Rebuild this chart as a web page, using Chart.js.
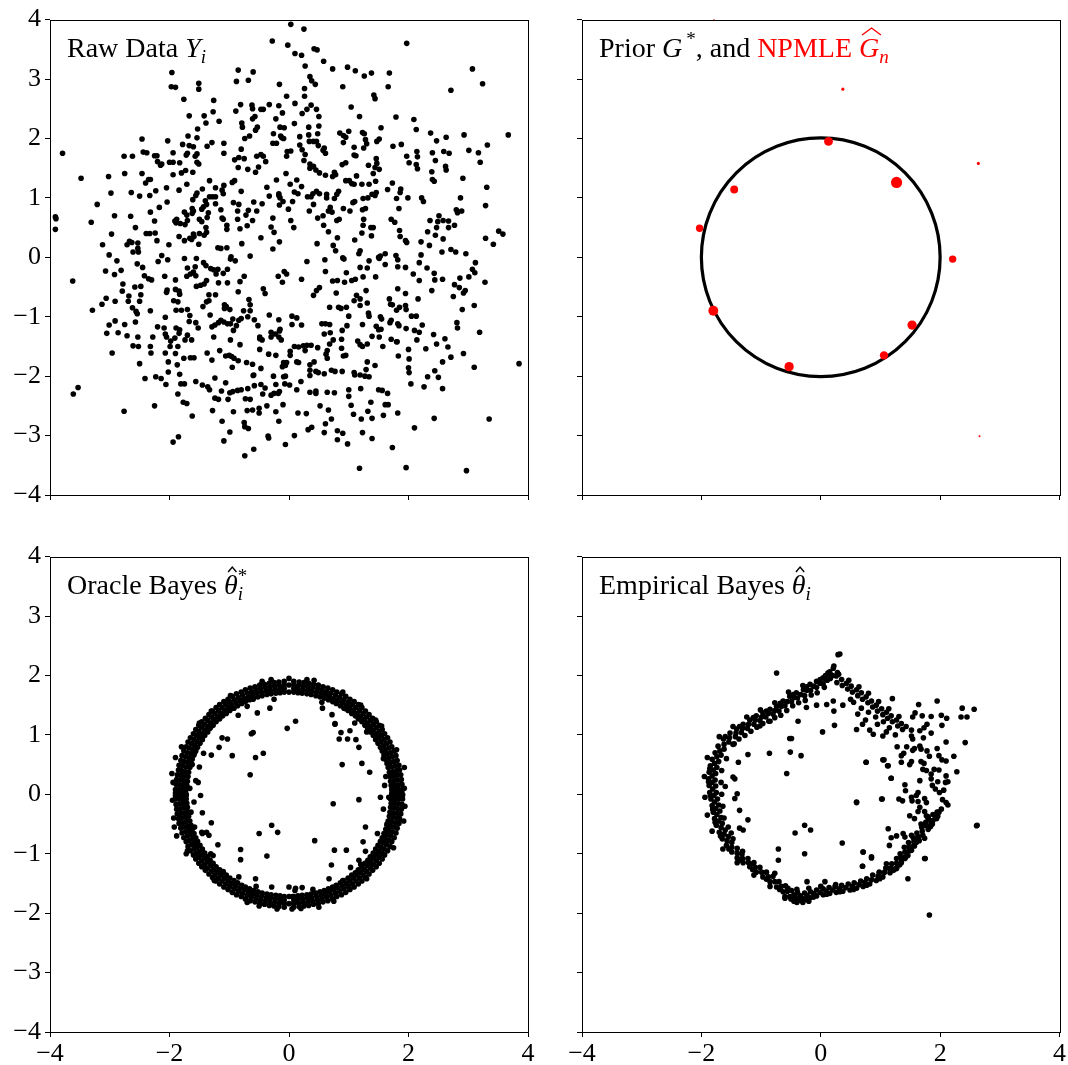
<!DOCTYPE html>
<html>
<head>
<meta charset="utf-8">
<script src="https://cdn.jsdelivr.net/npm/chart.js@4.4.1/dist/chart.umd.min.js"></script>
<style>
html, body { margin: 0; padding: 0; background: #fff; overflow: hidden; }
canvas { position: absolute; }
</style>
</head>
<body>
<canvas id="rawChart" width="540" height="528" style="left:0;top:0"></canvas>
<canvas id="priorChart" width="536" height="528" style="left:532px;top:0"></canvas>
<canvas id="oracleChart" width="540" height="528" style="left:0;top:537px"></canvas>
<canvas id="ebChart" width="536" height="528" style="left:532px;top:537px"></canvas>
<script>
// tick labels
const xTicks = [-4, -2, 0, 2, 4]
const yTicks = [-4, -3, -2, -1, 0, 1, 2, 3, 4]

const rawY = [
  [0.03,3.92],[0.25,3.84],[-0.28,3.64],[-0.02,3.57],[1.97,3.60],[0.10,3.43],[0.21,3.40],[0.42,3.51],[0.47,3.49],[0.58,3.30],[0.27,3.22],[0.73,3.17],[0.98,3.20],[1.11,3.14],[1.26,3.05],[1.38,3.10],[1.68,3.10],[1.66,2.87],[3.07,3.17],[3.24,2.92],[2.71,2.81],[-1.96,3.11],[-1.97,2.87],[-1.90,2.86],[-1.51,2.93],[-1.51,2.83],[-0.85,3.15],[-0.60,3.12],[-0.88,2.96],[-0.68,2.98],[-0.16,2.91],[0.35,3.04],[0.38,2.97],[0.44,2.91],[0.26,2.84],[0.90,2.87],[1.42,2.73],[1.44,2.67],[-1.76,2.66],[-1.26,2.64],[-1.67,2.38],[-1.42,2.38],[-1.27,2.45],[-1.39,2.26],[-1.17,2.29],[-1.53,2.16],[-0.89,2.46],[-0.81,2.57],[-0.62,2.56],[-0.61,2.50],[-0.47,2.49],[-0.43,2.49],[-0.33,2.57],[-0.17,2.55],[-0.11,2.43],[-0.04,2.71],[0.10,2.59],[0.26,2.71],[0.22,2.42],[0.30,2.49],[0.37,2.56],[0.46,2.49],[0.50,2.37],[0.50,2.21],[-0.57,2.37],[-0.61,2.33],[-0.79,2.26],[-0.78,2.19],[-0.53,2.19],[-0.56,2.14],[-0.66,2.04],[-0.74,2.00],[-0.22,2.33],[-0.15,2.19],[-0.08,2.18],[-0.26,2.08],[-0.14,2.04],[-0.09,2.00],[0.09,2.25],[0.33,2.19],[0.33,2.06],[0.48,2.08],[0.46,1.95],[0.18,2.03],[1.04,2.53],[1.18,2.37],[1.79,2.36],[2.09,2.32],[2.13,2.15],[2.37,2.09],[2.47,1.96],[2.63,2.02],[2.93,2.06],[3.67,2.06],[3.32,1.89],[3.01,1.80],[3.17,1.76],[3.20,1.60],[2.59,1.78],[2.68,1.75],[2.40,1.76],[2.45,1.63],[2.62,1.53],[2.63,1.47],[2.39,1.44],[2.40,1.31],[2.43,1.28],[2.91,1.33],[3.31,1.18],[3.29,0.87],[2.87,1.00],[1.97,1.70],[2.14,1.78],[2.15,1.69],[2.01,1.59],[2.13,1.56],[2.15,1.49],[1.74,1.87],[1.88,1.90],[1.54,2.18],[1.51,1.99],[1.47,1.95],[1.23,2.10],[1.26,2.08],[0.85,2.09],[0.91,2.05],[0.95,2.02],[1.00,2.12],[0.91,1.93],[1.09,1.85],[1.09,1.72],[1.12,1.71],[1.28,1.98],[1.30,1.91],[1.25,1.84],[1.46,1.66],[1.47,1.58],[1.44,1.51],[1.51,1.48],[1.41,1.41],[1.33,1.55],[1.13,1.37],[0.95,1.59],[0.89,1.56],[0.76,1.43],[0.78,1.39],[0.73,1.36],[0.95,1.29],[1.01,1.29],[1.05,1.24],[1.09,1.23],[1.22,1.23],[1.34,1.23],[1.45,1.28],[1.73,1.25],[1.87,1.15],[1.86,1.09],[1.99,1.00],[1.39,1.06],[1.44,1.04],[1.46,1.09],[1.24,0.99],[1.32,1.00],[1.65,1.14],[1.80,0.99],[2.22,1.00],[2.25,0.94],[2.80,0.80],[2.89,0.78],[2.82,0.75],[2.51,0.70],[2.58,0.62],[2.67,0.61],[2.49,0.60],[2.36,0.62],[2.77,0.54],[2.67,0.50],[2.47,0.50],[2.32,0.43],[2.45,0.37],[2.58,0.31],[2.35,0.20],[3.29,0.32],[3.51,0.44],[3.58,0.39],[3.42,0.22],[2.56,0.09],[2.71,0.13],[2.79,0.09],[2.96,0.06],[2.21,0.26],[2.21,0.04],[1.71,0.64],[1.77,0.59],[1.84,0.82],[1.85,0.45],[1.86,0.35],[1.95,0.28],[1.97,0.25],[1.79,0.03],[1.61,0.06],[1.53,0.02],[1.50,0.00],[1.24,0.54],[1.37,0.50],[1.41,0.50],[1.22,0.41],[1.38,0.36],[1.25,0.64],[1.23,0.80],[1.28,0.82],[1.10,0.29],[1.19,0.11],[1.17,0.06],[0.80,0.62],[0.84,0.64],[1.02,0.78],[1.07,0.92],[1.10,0.94],[0.91,0.82],[0.72,0.76],[0.69,0.84],[0.66,0.78],[0.57,0.70],[0.48,0.66],[0.58,0.54],[0.66,0.43],[0.81,0.33],[0.74,0.20],[0.78,0.11],[0.47,0.23],[0.90,-0.01],[0.83,1.11],[0.80,1.06],[0.76,0.99],[0.63,1.06],[0.63,1.00],[0.46,1.11],[0.51,1.07],[0.61,1.38],[0.31,1.02],[0.37,1.02],[0.40,1.07],[0.34,0.78],[0.41,0.89],[0.21,1.19],[0.13,1.30],[0.02,1.23],[0.09,1.10],[0.15,1.07],[0.06,0.94],[-0.05,1.41],[-0.21,1.30],[-0.17,1.07],[-0.17,1.04],[-0.15,1.00],[-0.33,1.03],[-0.37,1.18],[-0.16,0.88],[-0.10,0.94],[-0.01,0.81],[0.03,0.62],[0.08,0.50],[-0.27,0.66],[-0.30,0.51],[-0.25,0.42],[-0.16,0.26],[-0.27,0.14],[-0.47,0.33],[-0.45,0.90],[-0.59,0.93],[-0.68,0.79],[-0.54,0.78],[-0.72,0.71],[-0.61,0.62],[-0.70,0.53],[-0.86,0.78],[-0.86,0.64],[-0.82,0.48],[-0.93,0.92],[-0.84,0.89],[-0.80,1.11],[-0.95,1.26],[-0.91,1.29],[-1.09,1.21],[-1.12,1.13],[-1.10,1.07],[-1.23,1.02],[-1.33,1.02],[-1.28,1.02],[-1.40,0.95],[-1.38,0.89],[-1.43,0.85],[-1.46,0.81],[-1.14,0.80],[-1.12,0.66],[-1.10,0.64],[-1.04,0.54],[-1.04,0.47],[-1.23,0.90],[-1.35,0.75],[-1.37,0.67],[-1.50,0.64],[-1.46,0.60],[-1.39,0.50],[-1.62,0.82],[-1.62,0.74],[-1.60,0.78],[-1.75,0.76],[-1.71,0.71],[-1.70,0.62],[-1.74,0.55],[-1.82,0.57],[-1.88,0.64],[-1.91,0.61],[-1.89,0.58],[-1.84,0.35],[-1.75,0.28],[-1.66,0.32],[-1.60,0.39],[-1.59,0.35],[-1.63,0.30],[-1.50,0.40],[-1.42,0.37],[-1.38,0.42],[-1.51,0.22],[-1.56,1.04],[-1.61,0.97],[-1.54,1.08],[-1.45,1.15],[-1.33,1.29],[-1.23,1.17],[-1.19,0.16],[-1.14,0.15],[-1.04,0.16],[-0.97,0.01],[-0.79,0.23],[-0.65,0.02],[-2.03,1.96],[-1.94,1.76],[-1.94,1.60],[-2.00,1.60],[-1.83,1.59],[-1.78,1.90],[-1.69,2.04],[-1.67,1.88],[-1.54,2.01],[-1.60,1.86],[-1.54,1.74],[-1.57,1.70],[-1.51,1.57],[-1.54,1.60],[-1.72,1.72],[-1.70,1.75],[-1.29,1.93],[-1.37,1.87],[-1.09,1.92],[-1.09,1.75],[-1.94,1.39],[-1.80,1.42],[-1.73,1.46],[-1.61,1.43],[-1.71,1.23],[-1.84,1.13],[-2.05,1.17],[-2.04,0.93],[-2.17,0.84],[-2.32,0.76],[-2.25,0.61],[-2.23,1.12],[-2.33,1.04],[-2.50,1.03],[-2.64,1.09],[-2.46,1.41],[-2.35,1.31],[-2.32,1.31],[-2.40,1.25],[-2.46,1.99],[-2.44,1.77],[-2.38,1.76],[-2.25,1.71],[-2.21,1.71],[-2.20,1.61],[-2.15,1.55],[-2.13,1.57],[-2.76,1.70],[-2.62,1.70],[-2.75,1.41],[-3.02,1.36],[-2.98,1.08],[-3.48,1.33],[-3.79,1.75],[-3.21,0.89],[-3.31,0.59],[-2.92,0.70],[-2.97,0.39],[-3.12,0.21],[-3.01,0.04],[-2.65,0.69],[-2.57,0.50],[-2.67,0.27],[-2.63,0.25],[-2.53,0.24],[-2.53,0.15],[-2.71,0.21],[-2.61,0.09],[-2.52,0.09],[-2.39,0.40],[-2.33,0.40],[-2.24,0.41],[-2.21,0.28],[-2.01,0.21],[-2.13,0.03],[-3.91,0.68],[-3.90,0.65],[-3.91,0.47],[-0.80,1.82],[-0.84,1.68],[-0.75,1.66],[-0.91,1.64],[-0.85,1.51],[-0.69,1.48],[-0.56,1.43],[-0.51,1.52],[-0.54,1.70],[-0.47,1.73],[-0.43,1.70],[-0.39,1.61],[-0.27,1.92],[-0.21,1.92],[-0.12,2.01],[-0.03,1.78],[0.03,1.79],[-0.04,1.70],[0.18,1.89],[0.22,1.81],[0.27,1.73],[0.34,1.95],[0.41,1.95],[0.49,1.88],[0.57,1.80],[0.61,1.75],[0.59,1.84],[0.25,1.63],[0.35,1.57],[0.41,1.53],[0.45,1.47],[0.51,1.42],[0.35,1.50],
  [-3.62,-0.40],[-3.61,-2.30],[-3.53,-2.19],[-3.29,-0.89],[-3.13,-0.79],[-3.06,-0.69],[-2.91,-0.74],[-3.07,-0.23],[-2.92,-0.29],[-2.81,-0.22],[-2.88,-0.06],[-2.78,-0.45],[-2.79,-0.57],[-2.68,-0.65],[-2.69,-0.74],[-2.58,-0.50],[-2.48,-0.49],[-2.48,-0.63],[-2.50,-0.74],[-2.62,-0.85],[-2.56,-0.91],[-2.54,-0.95],[-3.01,-1.14],[-3.05,-1.28],[-2.91,-1.07],[-2.86,-1.27],[-2.75,-1.13],[-2.71,-1.32],[-2.57,-1.09],[-2.53,-1.34],[-2.61,-1.49],[-2.52,-1.50],[-2.96,-1.61],[-2.50,-1.79],[-2.76,-2.59],[-2.54,-0.11],[-2.45,-0.17],[-2.42,-0.31],[-2.35,-0.36],[-2.30,-0.38],[-2.19,-0.07],[-2.03,-0.04],[-2.08,-0.32],[-1.90,-0.38],[-2.04,-0.55],[-2.05,-0.59],[-1.90,-0.54],[-1.84,-0.57],[-1.83,-0.62],[-2.32,-0.90],[-2.07,-1.01],[-2.20,-1.17],[-2.28,-1.34],[-2.32,-1.50],[-2.31,-1.61],[-2.09,-1.19],[-2.07,-1.29],[-2.05,-1.34],[-1.98,-1.41],[-1.99,-1.50],[-1.91,-1.36],[-1.86,-1.50],[-1.90,-1.62],[-2.07,-1.61],[-2.02,-1.76],[-1.87,-1.81],[-1.83,-1.97],[-2.02,-1.93],[-1.93,-0.73],[-1.86,-0.75],[-1.89,-0.89],[-1.80,-0.89],[-1.70,-0.88],[-1.66,-0.98],[-1.89,-1.19],[-1.83,-1.22],[-1.70,-1.31],[-1.84,-1.28],[-1.74,-1.39],[-1.63,-1.39],[-1.59,-1.69],[-1.76,-1.70],[-1.65,-1.69],[-2.41,-2.04],[-2.23,-2.01],[-2.14,-2.04],[-2.06,-2.14],[-2.25,-2.50],[-1.86,-2.30],[-1.77,-2.44],[-1.71,-2.46],[-1.81,-2.13],[-1.75,-2.13],[-1.62,-2.67],[-1.94,-3.11],[-1.85,-3.02],[-1.56,-2.09],[-1.45,-2.15],[-1.36,-2.18],[-1.33,-2.23],[-1.24,-2.37],[-1.18,-2.39],[-1.28,-2.58],[-1.12,-2.76],[-1.13,-2.25],[-1.06,-2.11],[-1.24,-2.03],[-1.09,-3.09],[-0.99,-2.94],[-1.02,-2.39],[-0.99,-2.28],[-0.94,-2.26],[-0.86,-2.24],[-0.80,-2.23],[-0.93,-2.60],[-0.74,-2.85],[-0.75,-2.78],[-0.68,-2.88],[-0.73,-2.38],[-0.65,-2.39],[-0.69,-2.21],[-0.58,-2.16],[-0.47,-2.14],[-0.40,-2.20],[-0.44,-2.30],[-0.60,-1.99],[-0.70,-2.58],[-0.61,-2.57],[-0.50,-2.54],[-0.50,-2.62],[-0.74,-3.34],[-0.59,-3.23],[-0.37,-2.50],[-0.35,-3.01],[-0.34,-3.04],[-0.30,-2.32],[-0.25,-2.29],[-0.18,-2.29],[-0.16,-2.26],[-0.22,-2.14],[-0.26,-2.00],[-0.09,-2.01],[-0.06,-2.00],[-0.07,-2.13],[0.01,-2.15],[-0.22,-2.60],[-0.17,-2.76],[-0.10,-2.48],[-0.06,-3.15],[0.09,-3.00],[0.20,-2.09],[0.13,-2.23],[0.15,-2.62],[0.29,-2.63],[0.35,-2.27],[0.45,-2.29],[0.45,-2.25],[0.52,-2.50],[0.64,-2.27],[0.66,-2.57],[0.76,-2.28],[0.32,-2.90],[0.38,-2.86],[0.61,-2.80],[0.59,-2.95],[0.71,-2.72],[0.81,-2.92],[0.90,-2.96],[0.81,-3.07],[0.98,-3.14],[1.18,-3.55],[1.96,-3.54],[2.97,-3.59],[1.00,-2.23],[1.00,-2.34],[1.04,-2.49],[1.08,-2.64],[1.20,-2.21],[1.21,-2.72],[1.32,-2.59],[1.37,-2.44],[1.39,-2.71],[1.23,-2.95],[1.39,-3.05],[1.50,-2.23],[1.56,-2.24],[1.65,-2.29],[1.61,-2.48],[1.66,-2.48],[1.58,-2.66],[1.82,-2.62],[1.73,-3.20],[2.10,-2.87],[2.04,-2.13],[2.26,-2.18],[2.32,-2.01],[2.43,-2.71],[2.50,-2.02],[2.57,-2.21],[2.44,-1.91],[2.57,-1.76],[2.71,-1.68],[2.92,-1.62],[3.10,-1.85],[3.35,-2.72],[3.85,-1.79],[3.19,-1.26],[2.82,-1.19],[2.81,-1.10],[2.90,-0.88],[3.10,-0.81],[2.75,-0.66],[2.85,-0.51],[2.95,-0.56],[2.92,-0.60],[2.77,-0.46],[2.86,-0.35],[3.01,-0.33],[3.07,-0.20],[3.11,-0.26],[3.12,-0.09],[3.28,-0.42],[2.43,-0.27],[2.44,-0.38],[2.57,-0.37],[2.31,-0.18],[2.18,-0.09],[2.08,-0.28],[2.18,-0.39],[2.39,-0.56],[2.16,-0.70],[1.95,-0.81],[1.96,-0.88],[1.85,-0.84],[1.80,-0.89],[2.05,-0.99],[2.13,-0.99],[2.23,-1.14],[2.18,-1.26],[2.10,-1.23],[1.96,-1.20],[2.42,-1.30],[2.47,-1.46],[2.66,-1.51],[2.61,-1.37],[2.29,-1.54],[2.00,-1.55],[2.01,-1.71],[2.00,-1.86],[2.01,-1.94],[2.14,-1.39],[1.83,-1.66],[1.81,-1.42],[1.82,-0.16],[1.82,-0.04],[1.95,-0.17],[1.45,-0.33],[1.61,-0.12],[1.51,-0.02],[1.82,-0.53],[1.95,-0.61],[1.68,-0.70],[1.70,-0.79],[1.73,-0.80],[1.71,-1.06],[1.69,-1.10],[1.82,-1.12],[1.84,-1.15],[1.53,-1.00],[1.55,-1.04],[1.46,-1.16],[1.50,-1.22],[1.54,-1.21],[1.51,-1.34],[1.57,-1.50],[1.71,-1.38],[1.80,-1.42],[1.29,-0.56],[1.31,-0.77],[1.33,-0.94],[1.34,-0.99],[1.39,-1.33],[1.13,-0.64],[1.19,-0.70],[1.19,-0.81],[1.23,-1.13],[1.11,-0.37],[1.05,-0.39],[0.93,-0.42],[0.81,-0.39],[0.73,-0.40],[0.96,-0.26],[1.24,-0.33],[1.31,-0.18],[1.34,-0.06],[1.19,-0.17],[0.79,-0.60],[1.09,-0.73],[1.00,-0.99],[0.97,-1.15],[0.89,-1.23],[0.88,-1.38],[0.88,-1.53],[0.91,-1.66],[0.61,-0.24],[0.60,-0.04],[0.92,-0.03],[0.68,-0.84],[0.83,-0.84],[0.87,-0.86],[0.96,-0.84],[0.55,-1.12],[0.61,-1.12],[0.68,-1.13],[0.59,-1.29],[0.69,-1.27],[0.74,-1.39],[0.68,-1.46],[0.64,-1.57],[0.62,-1.63],[0.64,-1.70],[0.95,-1.65],[0.71,-1.90],[0.77,-1.92],[0.89,-1.92],[1.09,-1.94],[1.10,-1.98],[1.19,-1.98],[1.27,-2.00],[1.34,-2.01],[1.29,-1.89],[1.31,-1.76],[1.44,-1.82],[1.15,-1.41],[1.19,-1.47],[1.31,-1.46],[1.23,-1.50],[0.41,-0.64],[0.46,-0.56],[0.51,-0.51],[0.21,-0.37],[-0.18,-0.32],[-0.11,-0.42],[-0.08,-0.24],[-0.04,-0.28],[0.30,-0.07],[-0.43,-0.53],[-0.40,-0.61],[0.09,-1.50],[0.16,-1.51],[0.24,-1.49],[0.30,-1.48],[0.37,-1.48],[0.48,-1.52],[0.27,-1.57],[0.02,-1.58],[0.02,-1.65],[0.13,-1.76],[0.16,-1.77],[0.35,-1.81],[0.42,-1.76],[0.35,-1.90],[0.45,-1.92],[0.49,-1.94],[0.59,-1.96],[0.35,-1.99],[0.05,-0.99],[0.13,-1.02],[0.05,-1.13],[0.21,-1.14],[-0.17,-1.05],[-0.15,-1.21],[-0.30,-1.26],[-0.30,-1.34],[-0.23,-1.29],[-0.17,-1.34],[-0.13,-1.39],[-0.16,-1.24],[-0.33,-0.97],[-0.49,-1.37],[-0.45,-1.39],[-0.49,-1.55],[-0.34,-1.63],[-0.22,-1.65],[-0.09,-1.77],[-0.06,-1.82],[-0.11,-1.84],[-0.04,-1.77],[-0.47,-1.87],[-0.59,-1.98],[-0.58,-1.05],[-0.52,-1.15],[-0.49,-1.34],[-0.65,-0.80],[-0.65,-0.90],[-0.69,-1.00],[-0.76,-0.90],[-0.82,-1.47],[-0.67,-0.71],[-0.82,-0.41],[-0.75,-0.32],[-0.85,-0.58],[-1.03,-0.43],[-1.18,-0.43],[-1.22,-0.28],[-1.03,-0.20],[-1.10,-0.27],[-1.31,-0.19],[-1.26,-0.21],[-1.19,-0.20],[-0.98,-0.03],[-0.90,-0.06],[-1.43,-0.09],[-1.39,-0.14],[-1.57,-0.16],[-1.60,-0.25],[-1.70,-0.18],[-1.71,-0.32],[-1.65,-0.28],[-1.56,-0.31],[-1.55,-0.49],[-1.48,-0.47],[-1.42,-0.45],[-1.38,-0.39],[-1.75,-0.02],[-1.55,-0.02],[-1.34,-0.63],[-1.23,-0.63],[-1.38,-0.75],[-1.34,-0.73],[-1.44,-0.83],[-1.08,-0.80],[-1.05,-0.83],[-0.99,-0.88],[-1.08,-0.86],[-0.84,-1.06],[-0.80,-1.03],[-0.94,-1.04],[-0.98,-1.12],[-0.93,-1.23],[-0.88,-1.15],[-1.14,-1.06],[-1.09,-1.09],[-1.03,-1.12],[-1.18,-1.10],[-1.24,-1.14],[-1.29,-1.17],[-1.26,-1.34],[-1.32,-0.97],[-1.56,-1.10],[-1.52,-1.19],[-1.67,-1.08],[-1.37,-1.61],[-1.29,-1.73],[-1.16,-1.57],[-1.06,-1.66],[-1.00,-1.65],[-0.92,-1.70],[-0.96,-1.67],[-0.85,-1.74],[-0.71,-1.77],[-0.61,-1.80],[-0.95,-1.85],[-0.98,-1.39]
]

// prior G*: uniform on a circle of this radius
const priorRadius = 2

// NPMLE atoms and their masses
const npmleX = [0.13, 1.27, -1.45, -2.03, 2.21, -1.80, 1.53, 1.06, -0.53, 0.37, 2.64, 2.66, -1.79]
const npmleY = [1.95, 1.26, 1.14, 0.49, -0.03, -0.90, -1.14, -1.65, -1.84, 2.83, 1.58, -3.01, 4.00]
const npmleW = [0.10, 0.16, 0.08, 0.07, 0.07, 0.125, 0.11, 0.09, 0.11, 0.012, 0.012, 0.005, 0.005]

// oracle Bayes estimates
const oracleTheta = [
  [1.90,0],[1.78,0],[1.84,0.08],[1.72,0.08],[1.89,0.17],[1.77,0.15],[1.82,0.24],[1.70,0.22],[1.87,0.33],[1.75,0.31],[1.80,0.40],[1.68,0.37],[1.84,0.49],[1.72,0.46],[1.76,0.55],[1.64,0.52],[1.79,0.65],[1.67,0.61],[1.70,0.70],[1.59,0.66],[1.72,0.80],[1.61,0.75],[1.63,0.85],[1.53,0.79],[1.65,0.95],[1.54,0.89],[1.55,0.99],[1.45,0.92],[1.56,1.09],[1.46,1.02],[1.46,1.12],[1.36,1.05],[1.46,1.22],[1.36,1.14],[1.36,1.24],[1.27,1.16],[1.34,1.34],[1.26,1.26],[1.24,1.36],[1.16,1.27],[1.22,1.46],[1.14,1.36],[1.12,1.46],[1.05,1.36],[1.09,1.56],[1.02,1.46],[0.99,1.55],[0.92,1.45],[0.95,1.65],[0.89,1.54],[0.85,1.63],[0.79,1.53],[0.80,1.72],[0.75,1.61],[0.70,1.70],[0.66,1.59],[0.65,1.79],[0.61,1.67],[0.55,1.76],[0.52,1.64],[0.49,1.84],[0.46,1.72],[0.40,1.80],[0.37,1.68],[0.33,1.87],[0.31,1.75],[0.24,1.82],[0.22,1.70],[0.17,1.89],[0.15,1.77],[0.08,1.84],[0.08,1.72],
  [1.84,0.02],[1.72,0.02],[1.90,0.08],[1.78,0.08],[1.83,0.16],[1.71,0.15],[1.88,0.25],[1.76,0.23],[1.81,0.32],[1.69,0.30],[1.85,0.41],[1.74,0.38],[1.78,0.48],[1.66,0.45],[1.81,0.57],[1.70,0.54],[1.73,0.63],[1.62,0.59],[1.76,0.73],[1.64,0.68],[1.67,0.78],[1.56,0.73],[1.69,0.88],[1.58,0.82],[1.59,0.92],[1.49,0.86],[1.60,1.02],[1.50,0.96],[1.51,1.06],[1.41,0.99],[1.51,1.16],[1.41,1.08],[1.41,1.18],[1.32,1.11],[1.40,1.28],[1.31,1.20],[1.30,1.30],[1.22,1.22],[1.28,1.40],[1.20,1.31],[1.18,1.41],[1.11,1.32],[1.16,1.51],[1.08,1.41],[1.06,1.51],[0.99,1.41],[1.02,1.60],[0.96,1.50],[0.92,1.59],[0.86,1.49],[0.88,1.69],[0.82,1.58],[0.78,1.67],[0.73,1.56],[0.73,1.76],[0.68,1.64],[0.63,1.73],[0.59,1.62],[0.57,1.81],[0.54,1.70],[0.48,1.78],[0.45,1.66],[0.41,1.85],[0.38,1.74],[0.32,1.81],[0.30,1.69],[0.25,1.88],[0.23,1.76],[0.16,1.83],[0.15,1.71],[0.08,1.90],[0.08,1.78],
  [-1.84,0],[-1.72,0],[-1.90,0.08],[-1.78,0.08],[-1.83,0.16],[-1.71,0.15],[-1.88,0.25],[-1.76,0.23],[-1.81,0.32],[-1.69,0.30],[-1.85,0.41],[-1.74,0.38],[-1.78,0.48],[-1.66,0.45],[-1.81,0.57],[-1.70,0.54],[-1.73,0.63],[-1.62,0.59],[-1.76,0.73],[-1.64,0.68],[-1.67,0.78],[-1.56,0.73],[-1.69,0.88],[-1.58,0.82],[-1.59,0.92],[-1.49,0.86],[-1.60,1.02],[-1.50,0.96],[-1.51,1.06],[-1.41,0.99],[-1.51,1.16],[-1.41,1.08],[-1.41,1.18],[-1.32,1.11],[-1.40,1.28],[-1.31,1.20],[-1.30,1.30],[-1.22,1.22],[-1.28,1.40],[-1.20,1.31],[-1.18,1.41],[-1.11,1.32],[-1.16,1.51],[-1.08,1.41],[-1.06,1.51],[-0.99,1.41],[-1.02,1.60],[-0.96,1.50],[-0.92,1.59],[-0.86,1.49],[-0.88,1.69],[-0.82,1.58],[-0.78,1.67],[-0.73,1.56],[-0.73,1.76],[-0.68,1.64],[-0.63,1.73],[-0.59,1.62],[-0.57,1.81],[-0.54,1.70],[-0.48,1.78],[-0.45,1.66],[-0.41,1.85],[-0.38,1.74],[-0.32,1.81],[-0.30,1.69],[-0.25,1.88],[-0.23,1.76],[-0.16,1.83],[-0.15,1.71],[-0.08,1.90],[-0.08,1.78],[0,1.84],[0,1.72],
  [-1.90,0.02],[-1.78,0.02],[-1.84,0.08],[-1.72,0.08],[-1.89,0.17],[-1.77,0.15],[-1.82,0.24],[-1.70,0.22],[-1.87,0.33],[-1.75,0.31],[-1.80,0.40],[-1.68,0.37],[-1.84,0.49],[-1.72,0.46],[-1.76,0.55],[-1.64,0.52],[-1.79,0.65],[-1.67,0.61],[-1.70,0.70],[-1.59,0.66],[-1.72,0.80],[-1.61,0.75],[-1.63,0.85],[-1.53,0.79],[-1.65,0.95],[-1.54,0.89],[-1.55,0.99],[-1.45,0.92],[-1.56,1.09],[-1.46,1.02],[-1.46,1.12],[-1.36,1.05],[-1.46,1.22],[-1.36,1.14],[-1.36,1.24],[-1.27,1.16],[-1.34,1.34],[-1.26,1.26],[-1.24,1.36],[-1.16,1.27],[-1.22,1.46],[-1.14,1.36],[-1.12,1.46],[-1.05,1.36],[-1.09,1.56],[-1.02,1.46],[-0.99,1.55],[-0.92,1.45],[-0.95,1.65],[-0.89,1.54],[-0.85,1.63],[-0.79,1.53],[-0.80,1.72],[-0.75,1.61],[-0.70,1.70],[-0.66,1.59],[-0.65,1.79],[-0.61,1.67],[-0.55,1.76],[-0.52,1.64],[-0.49,1.84],[-0.46,1.72],[-0.40,1.80],[-0.37,1.68],[-0.33,1.87],[-0.31,1.75],[-0.24,1.82],[-0.22,1.70],[-0.17,1.89],[-0.15,1.77],[-0.08,1.84],[-0.08,1.72],
  [-1.90,-0.02],[-1.78,-0.02],[-1.84,-0.08],[-1.72,-0.08],[-1.89,-0.17],[-1.77,-0.15],[-1.82,-0.24],[-1.70,-0.22],[-1.87,-0.33],[-1.75,-0.31],[-1.80,-0.40],[-1.68,-0.37],[-1.84,-0.49],[-1.72,-0.46],[-1.76,-0.55],[-1.64,-0.52],[-1.79,-0.65],[-1.67,-0.61],[-1.70,-0.70],[-1.59,-0.66],[-1.72,-0.80],[-1.61,-0.75],[-1.63,-0.85],[-1.53,-0.79],[-1.65,-0.95],[-1.54,-0.89],[-1.55,-0.99],[-1.45,-0.92],[-1.56,-1.09],[-1.46,-1.02],[-1.46,-1.12],[-1.36,-1.05],[-1.46,-1.22],[-1.36,-1.14],[-1.36,-1.24],[-1.27,-1.16],[-1.34,-1.34],[-1.26,-1.26],[-1.24,-1.36],[-1.16,-1.27],[-1.22,-1.46],[-1.14,-1.36],[-1.12,-1.46],[-1.05,-1.36],[-1.09,-1.56],[-1.02,-1.46],[-0.99,-1.55],[-0.92,-1.45],[-0.95,-1.65],[-0.89,-1.54],[-0.85,-1.63],[-0.79,-1.53],[-0.80,-1.72],[-0.75,-1.61],[-0.70,-1.70],[-0.66,-1.59],[-0.65,-1.79],[-0.61,-1.67],[-0.55,-1.76],[-0.52,-1.64],[-0.49,-1.84],[-0.46,-1.72],[-0.40,-1.80],[-0.37,-1.68],[-0.33,-1.87],[-0.31,-1.75],[-0.24,-1.82],[-0.22,-1.70],[-0.17,-1.89],[-0.15,-1.77],[-0.08,-1.84],[-0.08,-1.72],
  [-1.84,-0.02],[-1.72,-0.02],[-1.90,-0.08],[-1.78,-0.08],[-1.83,-0.16],[-1.71,-0.15],[-1.88,-0.25],[-1.76,-0.23],[-1.81,-0.32],[-1.69,-0.30],[-1.85,-0.41],[-1.74,-0.38],[-1.78,-0.48],[-1.66,-0.45],[-1.81,-0.57],[-1.70,-0.54],[-1.73,-0.63],[-1.62,-0.59],[-1.76,-0.73],[-1.64,-0.68],[-1.67,-0.78],[-1.56,-0.73],[-1.69,-0.88],[-1.58,-0.82],[-1.59,-0.92],[-1.49,-0.86],[-1.60,-1.02],[-1.50,-0.96],[-1.51,-1.06],[-1.41,-0.99],[-1.51,-1.16],[-1.41,-1.08],[-1.41,-1.18],[-1.32,-1.11],[-1.40,-1.28],[-1.31,-1.20],[-1.30,-1.30],[-1.22,-1.22],[-1.28,-1.40],[-1.20,-1.31],[-1.18,-1.41],[-1.11,-1.32],[-1.16,-1.51],[-1.08,-1.41],[-1.06,-1.51],[-0.99,-1.41],[-1.02,-1.60],[-0.96,-1.50],[-0.92,-1.59],[-0.86,-1.49],[-0.88,-1.69],[-0.82,-1.58],[-0.78,-1.67],[-0.73,-1.56],[-0.73,-1.76],[-0.68,-1.64],[-0.63,-1.73],[-0.59,-1.62],[-0.57,-1.81],[-0.54,-1.70],[-0.48,-1.78],[-0.45,-1.66],[-0.41,-1.85],[-0.38,-1.74],[-0.32,-1.81],[-0.30,-1.69],[-0.25,-1.88],[-0.23,-1.76],[-0.16,-1.83],[-0.15,-1.71],[-0.08,-1.90],[-0.08,-1.78],
  [1.84,-0.02],[1.72,-0.02],[1.90,-0.08],[1.78,-0.08],[1.83,-0.16],[1.71,-0.15],[1.88,-0.25],[1.76,-0.23],[1.81,-0.32],[1.69,-0.30],[1.85,-0.41],[1.74,-0.38],[1.78,-0.48],[1.66,-0.45],[1.81,-0.57],[1.70,-0.54],[1.73,-0.63],[1.62,-0.59],[1.76,-0.73],[1.64,-0.68],[1.67,-0.78],[1.56,-0.73],[1.69,-0.88],[1.58,-0.82],[1.59,-0.92],[1.49,-0.86],[1.60,-1.02],[1.50,-0.96],[1.51,-1.06],[1.41,-0.99],[1.51,-1.16],[1.41,-1.08],[1.41,-1.18],[1.32,-1.11],[1.40,-1.28],[1.31,-1.20],[1.30,-1.30],[1.22,-1.22],[1.28,-1.40],[1.20,-1.31],[1.18,-1.41],[1.11,-1.32],[1.16,-1.51],[1.08,-1.41],[1.06,-1.51],[0.99,-1.41],[1.02,-1.60],[0.96,-1.50],[0.92,-1.59],[0.86,-1.49],[0.88,-1.69],[0.82,-1.58],[0.78,-1.67],[0.73,-1.56],[0.73,-1.76],[0.68,-1.64],[0.63,-1.73],[0.59,-1.62],[0.57,-1.81],[0.54,-1.70],[0.48,-1.78],[0.45,-1.66],[0.41,-1.85],[0.38,-1.74],[0.32,-1.81],[0.30,-1.69],[0.25,-1.88],[0.23,-1.76],[0.16,-1.83],[0.15,-1.71],[0.08,-1.90],[0.08,-1.78],[0,-1.84],[0,-1.72],
  [1.90,-0.02],[1.78,-0.02],[1.84,-0.08],[1.72,-0.08],[1.89,-0.17],[1.77,-0.15],[1.82,-0.24],[1.70,-0.22],[1.87,-0.33],[1.75,-0.31],[1.80,-0.40],[1.68,-0.37],[1.84,-0.49],[1.72,-0.46],[1.76,-0.55],[1.64,-0.52],[1.79,-0.65],[1.67,-0.61],[1.70,-0.70],[1.59,-0.66],[1.72,-0.80],[1.61,-0.75],[1.63,-0.85],[1.53,-0.79],[1.65,-0.95],[1.54,-0.89],[1.55,-0.99],[1.45,-0.92],[1.56,-1.09],[1.46,-1.02],[1.46,-1.12],[1.36,-1.05],[1.46,-1.22],[1.36,-1.14],[1.36,-1.24],[1.27,-1.16],[1.34,-1.34],[1.26,-1.26],[1.24,-1.36],[1.16,-1.27],[1.22,-1.46],[1.14,-1.36],[1.12,-1.46],[1.05,-1.36],[1.09,-1.56],[1.02,-1.46],[0.99,-1.55],[0.92,-1.45],[0.95,-1.65],[0.89,-1.54],[0.85,-1.63],[0.79,-1.53],[0.80,-1.72],[0.75,-1.61],[0.70,-1.70],[0.66,-1.59],[0.65,-1.79],[0.61,-1.67],[0.55,-1.76],[0.52,-1.64],[0.49,-1.84],[0.46,-1.72],[0.40,-1.80],[0.37,-1.68],[0.33,-1.87],[0.31,-1.75],[0.24,-1.82],[0.22,-1.70],[0.17,-1.89],[0.15,-1.77],[0.08,-1.84],[0.08,-1.72],
  [-1.94,0.20],[-1.95,-0.10],[-1.93,-0.40],[-1.66,0.10],[-1.64,-0.30],[-1.62,0.50],[-1.90,0.62],[-1.88,-0.70],[1.93,0.10],[1.94,-0.20],[1.62,0.30],[1.64,-0.50],[0.30,1.93],[-0.30,1.93],[0.00,1.95],[0.60,1.62],[-0.60,1.60],[1.20,1.50],[-1.30,1.40],[1.45,1.25],[0.20,-1.92],[-0.20,-1.93],[0.50,-1.90],[-0.50,-1.88],[0.10,-1.62],[-0.90,-1.50],[0.90,-1.45],[-1.40,-1.25],[1.35,-1.20],[-1.55,-0.85],[1.55,-0.80],[0.95,1.44],[1.10,1.20],[1.30,1.05],[1.58,0.60],[-0.95,1.45],[-1.45,0.95],[-1.70,-0.95],
  [1.93,0.45],[1.80,0.75],[1.55,1.15],[0.90,1.72],[0.42,1.92],[-0.45,1.90],[-0.98,1.66],[-1.50,1.20],[-1.80,0.80],[-1.96,0.35],[-1.92,-0.55],[-1.72,-1.00],[-1.25,-1.45],[-0.70,-1.82],[0.05,-1.93],[0.75,-1.80],[1.30,-1.42],[1.75,-0.90],[1.92,-0.45],[1.60,0.15],[1.58,-0.25],[-1.58,0.70],[-1.58,-0.55],[0.55,1.55],[-0.25,1.60],[-0.70,1.48],[-1.10,-1.30],[0.40,-1.60],[-0.55,-1.55],
  [-0.85,1.33],[-0.53,1.37],[-0.32,1.45],[-0.03,1.11],[0.11,1.23],[-0.63,1.02],[-0.60,1.04],[-1.12,0.95],[-1.03,0.93],[-1.17,0.79],[-1.43,0.69],[-1.30,0.66],[-0.95,0.65],[-0.56,0.62],[-0.43,0.69],[-0.65,0.33],[-1.50,0.46],[-1.56,0.23],[-1.52,0.20],[-1.48,-0.02],[-1.59,-0.13],[-1.45,-0.31],[-1.30,-0.48],[-1.34,-0.69],[-1.19,-0.85],[-1.31,-1.00],[-1.27,-1.03],[-1.45,-0.66],[-1.46,-0.64],[-1.38,-0.64],[-0.81,-0.93],[-0.81,-1.10],[-0.84,-1.39],[-0.56,-1.42],[-0.50,-0.66],[-0.29,-0.52],[-0.19,-0.64],[-0.37,-1.04],[0.43,-0.78],[0.74,-0.16],[0.89,0.50],[1.22,0.52],[1.35,0.37],[1.17,-0.09],[1.28,-0.55],[0.76,-0.94],[0.96,-0.94],[0.71,-1.19],[1.03,-1.23],[1.28,-0.96],[1.17,-1.11],[1.20,-1.18],[0.67,-1.42],[0.84,0.93],[0.87,1.04],[0.98,0.93],[1.02,1.07],[1.12,0.92],[0.77,1.18],[1.17,0.79],[1.67,-0.05],[1.70,-0.08],[1.53,-0.05],[1.48,-0.66],[1.60,-0.78],[1.24,-0.80],[0.56,1.45],[0.72,1.34],[0.77,1.19],[0.00,-1.56],[0.06,-1.72],[0.11,-1.58],[0.22,-1.57],[-0.29,-1.56]
]

// empirical Bayes estimates
const ebTheta = [
  [0.21,2.12],[0.20,2.00],[0.16,1.95],[0.12,2.04],[0.11,1.92],[0.04,1.96],[0.04,1.86],[0.06,1.80],[-0.07,1.90],[-0.07,1.80],[-0.18,1.85],[-0.17,1.75],[-0.29,1.76],[-0.27,1.66],[-0.41,1.71],[-0.39,1.62],[-0.52,1.65],[-0.49,1.56],[-0.63,1.57],[-0.60,1.49],[-0.74,1.48],[-0.70,1.40],[-0.85,1.43],[-0.80,1.35],[-0.97,1.37],[-0.92,1.30],[-1.08,1.32],[-1.02,1.24],[-1.19,1.25],[-1.12,1.18],[-1.30,1.18],[-1.23,1.11],[-1.41,1.10],[-1.33,1.04],[-1.52,1.03],[-1.43,0.97],[-1.63,0.93],[-1.54,0.88],[-1.72,0.81],[-1.62,0.76],[-1.77,0.70],[-1.67,0.66],[-1.82,0.59],[-1.71,0.55],[-1.85,0.48],[-1.74,0.45],[-1.87,0.37],[-1.76,0.35],[-1.88,0.26],[-1.77,0.24],[-1.87,0.15],[-1.76,0.14],[-1.86,0.03],[-1.75,0.03],[-1.84,-0.08],[-1.73,-0.08],[-1.82,-0.19],[-1.71,-0.18],[-1.80,-0.30],[-1.69,-0.28],[-1.78,-0.41],[-1.67,-0.39],[-1.75,-0.52],[-1.65,-0.49],[-1.70,-0.64],[-1.60,-0.60],[-1.65,-0.75],[-1.55,-0.71],[-1.58,-0.86],[-1.49,-0.81],[-1.49,-0.97],[-1.40,-0.91],[-1.40,-1.07],[-1.32,-1.01],[-1.30,-1.15],[-1.22,-1.08],[-1.19,-1.22],[-1.12,-1.15],[-1.08,-1.31],[-1.02,-1.23],[-0.97,-1.39],[-0.91,-1.31],[-0.85,-1.47],[-0.80,-1.38],[-0.74,-1.56],[-0.70,-1.47],[-0.63,-1.64],[-0.59,-1.54],[-0.52,-1.72],[-0.49,-1.62],[-0.50,-1.76],[-0.41,-1.76],[-0.39,-1.65],[-0.43,-1.72],[-0.29,-1.76],[-0.27,-1.66],[-0.33,-1.74],[-0.18,-1.74],[-0.17,-1.64],[-0.07,-1.71],[-0.07,-1.61],[0.04,-1.69],[0.04,-1.59],[0.15,-1.67],[0.14,-1.57],[0.26,-1.65],[0.24,-1.55],[0.37,-1.63],[0.35,-1.53],[0.49,-1.61],[0.46,-1.51],[0.60,-1.58],[0.56,-1.49],[0.71,-1.55],[0.67,-1.46],[0.82,-1.51],[0.77,-1.42],[0.93,-1.45],[0.87,-1.36],[1.04,-1.39],[0.98,-1.31],[1.16,-1.32],[1.09,-1.24],[1.27,-1.24],[1.19,-1.17],[1.35,-1.15],[1.27,-1.08],[1.42,-1.06],[1.33,-1.00],[1.49,-0.95],[1.40,-0.89],[1.56,-0.86],[1.47,-0.81],[1.65,-0.78],[1.55,-0.73],[1.71,-0.69],[1.61,-0.65],[1.80,-0.59],[1.69,-0.55],[1.87,-0.50],[1.76,-0.47],[1.92,-0.40],[1.80,-0.38],[1.95,-0.30],
  [0.16,2.02],[0.08,1.94],[-0.01,1.87],[-0.12,1.82],[-0.23,1.75],[-0.34,1.68],[-0.45,1.63],[-0.56,1.56],[-0.66,1.48],[-0.77,1.41],[-0.88,1.36],[-0.99,1.30],[-1.10,1.25],[-1.21,1.18],[-1.31,1.11],[-1.42,1.03],[-1.53,0.95],[-1.62,0.84],[-1.69,0.73],[-1.74,0.63],[-1.78,0.52],[-1.80,0.41],[-1.82,0.31],[-1.82,0.20],[-1.81,0.09],[-1.79,-0.02],[-1.78,-0.13],[-1.76,-0.24],[-1.74,-0.34],[-1.71,-0.45],[-1.67,-0.56],[-1.62,-0.67],[-1.57,-0.78],[-1.49,-0.89],[-1.40,-0.99],[-1.31,-1.08],[-1.21,-1.15],[-1.10,-1.23],[-0.99,-1.31],[-0.88,-1.39],[-0.77,-1.47],[-0.66,-1.55],[-0.56,-1.63],[-0.45,-1.69],[-0.34,-1.71],[-0.23,-1.70],[-0.12,-1.67],[-0.01,-1.65],[0.09,-1.63],[0.20,-1.61],[0.31,-1.59],[0.42,-1.57],[0.53,-1.55],[0.64,-1.52],[0.74,-1.48],[0.85,-1.44],[0.96,-1.38],[1.07,-1.31],[1.18,-1.24],[1.27,-1.16],[1.34,-1.07],[1.41,-0.97],[1.48,-0.88],[1.56,-0.80],[1.63,-0.71],[1.70,-0.62],[1.78,-0.53],[1.84,-0.44],[1.88,-0.34],
  [-1.86,0.43],[-1.88,0.21],[-1.85,-0.02],[-1.81,-0.25],[-1.77,-0.47],[-1.68,-0.70],[-1.54,-0.92],[-1.35,-1.11],[-1.14,-1.27],[-0.91,-1.43],[-0.69,-1.60],[-0.47,-1.74],[-0.35,-1.78],[-0.24,-1.77],[-0.12,-1.73],[0.10,-1.68],[0.32,-1.64],[0.55,-1.60],[0.77,-1.53],[0.99,-1.42],[1.22,-1.28],[-1.60,0.97],[-1.36,1.14],[-1.13,1.29],[-0.91,1.40],[-0.68,1.53],[-0.46,1.68],[-0.24,1.81],[-0.01,1.93],[-1.66,0.40],[-1.67,0.20],[-1.66,0.00],[-1.64,-0.20],[-1.62,-0.40],[-1.58,0.60],[-1.50,-0.65],[-1.45,0.85],[-1.55,-0.55],[-0.40,-1.60],[-0.20,-1.58],[0.00,-1.55],[0.25,-1.52],[-0.55,-1.58],[-0.30,-1.82],[-0.45,-1.80],[-0.60,-1.75],
  [-0.06,1.71],[-0.16,1.67],[-0.26,1.58],[-0.37,1.54],[-0.47,1.49],[-0.57,1.41],[-0.67,1.33],[-0.77,1.29],[-0.87,1.23],[-0.97,1.19],[-1.07,1.13],[-1.17,1.06],[-1.27,0.99],[-1.37,0.93],[-1.47,0.84],
  [-0.30,1.83],[-0.54,1.72],[-0.77,1.54],[-1.01,1.42],[-1.24,1.30],[-1.47,1.14],[-1.70,0.97],[-1.90,0.62],[-1.95,0.30],[-1.94,-0.05],[-1.90,-0.35],[-1.82,-0.62],[-1.64,-0.92],[-1.40,-1.15],[-1.12,-1.36],[-0.85,-1.55],[-0.60,-1.72],[-0.40,-1.82],[-0.20,-1.80],
  [0.26,1.99],[0.35,1.93],[0.43,1.87],[0.51,1.82],[0.60,1.76],[0.68,1.71],[0.76,1.64],[0.85,1.57],[0.93,1.50],[1.02,1.44],[1.10,1.38],[1.18,1.32],[1.27,1.25],[1.35,1.19],[1.43,1.14],[1.52,1.08],[0.27,1.88],[0.36,1.83],[0.45,1.77],[0.53,1.72],[0.62,1.66],[0.70,1.60],[0.79,1.54],[0.87,1.47],[0.95,1.40],[1.04,1.34],[1.12,1.28],[1.20,1.22],[1.29,1.15],[1.37,1.09],[0.30,2.02],[0.47,1.92],[0.64,1.81],[0.80,1.70],[0.97,1.56],[1.14,1.44],[1.31,1.31],[0.15,2.06],[0.22,2.16],[0.28,2.05],[0.08,2.00],
  [0.55,1.55],[0.68,1.45],[0.80,1.38],[0.92,1.30],[1.05,1.22],[1.15,1.12],[0.62,1.35],[0.95,1.18],[1.25,1.00],[0.50,1.60],[0.75,1.25],[1.10,1.05],
  [-0.74,2.04],[0.29,2.35],[0.32,2.36],[-0.38,1.23],[0.03,1.05],[0.23,1.16],[-0.52,0.94],[-0.49,0.94],[-0.86,0.69],[-0.51,0.71],[-0.33,0.65],[-0.57,0.35],[-1.22,0.67],[-1.38,0.54],[-1.47,0.29],[-1.44,0.26],[-1.60,0.13],[-1.40,0.01],[-1.44,-0.07],[-1.36,-0.27],[-1.22,-0.43],[-1.36,-0.57],[-1.30,-0.60],[-1.47,-0.75],[-1.31,-0.96],[-1.13,-1.17],[-0.77,-1.33],[-0.71,-0.92],[-0.71,-1.11],[-0.43,-0.65],[-0.27,-0.52],[-0.17,-0.60],[-0.27,-1.00],[-0.23,-1.47],[0.07,-1.47],[0.36,-0.82],[0.60,-0.14],[0.71,-0.97],[0.70,-1.21],[0.85,-1.07],[1.02,-0.08],[0.76,0.54],[1.04,0.58],[1.13,0.48],[1.18,0.27],[0.98,-1.32],[1.46,-1.42],[1.74,-1.08],[1.82,-2.03],[2.61,-0.53],[0.70,1.18],[0.82,1.08],[1.04,0.98],[0.60,1.09],[0.88,1.01],[-0.24,1.46],[-0.07,1.50],[0.10,1.51],[0.21,1.57],[-0.85,1.23],[-1.02,1.15],[0.22,1.40],[0.37,1.50],
  [1.20,1.61],[1.64,1.51],[1.95,1.57],[2.37,1.45],[2.57,1.43],[2.35,1.30],[2.45,1.30],[2.02,1.33],[2.11,1.28],[1.85,1.31],[1.70,1.32],[1.58,1.37],[1.54,1.30],[2.03,1.16],[1.78,1.18],[1.73,1.12],[1.66,1.07],[1.85,1.03],[2.10,0.88],[2.42,0.87],[1.52,0.98],[1.54,0.93],[1.72,0.95],[1.28,0.80],[1.44,0.80],[1.54,0.74],[1.57,0.77],[1.66,0.81],[1.68,0.76],[1.78,0.73],[1.95,0.77],[1.35,0.65],[1.39,0.69],[1.35,0.54],[1.49,0.50],[1.52,0.55],[1.68,0.55],[1.73,0.52],[1.82,0.64],[1.98,0.65],[2.03,0.58],[2.10,0.56],[2.23,0.64],[2.28,0.38],[0.76,0.54],[1.06,0.58],[1.12,0.48],[1.18,0.27],[1.71,0.42],[1.77,0.40],[1.85,0.34],[1.90,0.42],[1.98,0.41],[2.10,0.31],[2.13,0.21],[2.09,0.20],[1.96,0.21],[1.66,0.23],[1.85,0.26],[1.87,0.15],[1.92,0.09],[1.99,0.03],[2.06,0.07],[2.04,-0.09],[1.41,0.16],[1.42,0.06],[1.63,0.03],[1.60,-0.02],[1.52,-0.05],[1.53,-0.11],[1.63,-0.12],[1.74,-0.07],[1.77,-0.14],[1.31,-0.08],[1.37,-0.11],[1.03,-0.08],[0.60,-0.13],[2.10,-0.14],[2.13,-0.18],[2.02,-0.25],[1.98,-0.30],[1.94,-0.41],[1.88,-0.44],[1.85,-0.50],[1.96,-0.37],[1.66,-0.22],[1.63,-0.29],[1.74,-0.29],[1.77,-0.36],[1.80,-0.41],[1.84,-0.54],[1.49,-0.36],[1.57,-0.41],[1.68,-0.50],[1.72,-0.53],[2.62,-0.52],[1.13,-0.58],[1.27,-0.70],[1.18,-0.73],[1.15,-0.86],[1.38,-0.66],[1.41,-0.72],[1.52,-0.69],[1.57,-0.75],[1.63,-0.73],[1.74,-0.74],[1.60,-0.81],[1.57,-0.87],[1.52,-0.94],[1.46,-1.03],[1.41,-1.08],[1.35,-1.14],[1.32,-1.19],[1.27,-1.25],[1.43,-0.97],[1.38,-1.06],[1.49,-0.90],[0.71,-0.97],[0.85,-1.05],[0.70,-1.21],[1.10,-1.17],[1.15,-1.25],[1.75,-1.08]
]

const toXY = pts => pts.map(([x, y]) => ({ x, y }))
const fmt = v => (v < 0 ? '\u2212' + Math.abs(v) : String(v))
const serif = '"Liberation Serif", "DejaVu Serif", serif'

function axis(ticks, showLabels, dir) {
  return {
    type: 'linear',
    min: -4,
    max: 4,
    afterBuildTicks: s => { s.ticks = ticks.map(v => ({ value: v })) },
    afterFit: s => { if (dir === 'x') s.height = 33; else s.width = 50 },
    grid: { drawOnChartArea: false, drawTicks: true, tickLength: 5, color: '#000', lineWidth: 1 },
    border: { display: false },
    ticks: {
      autoSkip: false,
      maxRotation: 0,
      padding: dir === 'x' ? 2 : 4,
      color: showLabels ? '#000' : 'rgba(0,0,0,0)',
      font: { family: serif, size: 26 },
      callback: v => fmt(v)
    }
  }
}

// black box round the plot area
const framePlugin = {
  id: 'frame',
  afterDraw(chart) {
    const a = chart.chartArea, ctx = chart.ctx
    ctx.save()
    ctx.strokeStyle = '#000'
    ctx.lineWidth = 1
    ctx.strokeRect(Math.round(a.left) + 0.5, Math.round(a.top) + 0.5, Math.round(a.right - a.left), Math.round(a.bottom - a.top))
    ctx.restore()
  }
}

// panel heading with italic, sub/superscript and hat pieces
const titlePlugin = {
  id: 'panelTitle',
  afterDraw(chart, args, opts) {
    const segs = opts.segs
    if (!segs) return
    const ctx = chart.ctx, a = chart.chartArea
    let x = a.left + 17, prevX = x
    const base = a.top + 37
    ctx.save()
    ctx.textBaseline = 'alphabetic'
    ctx.textAlign = 'left'
    for (const s of segs) {
      const small = s.sub || s.sup
      const size = small ? 19 : 28
      ctx.font = (s.it ? 'italic ' : '') + size + 'px ' + serif
      ctx.fillStyle = s.color || '#000'
      const sx = s.over ? prevX : x + (s.gap || 0)
      const y = base + (s.sub ? 6 : s.sup ? -12 : 0)
      ctx.fillText(s.t, sx, y)
      const w = ctx.measureText(s.t).width
      if (s.hat) {
        const top = base - size * 0.7
        ctx.strokeStyle = s.color || '#000'
        ctx.lineWidth = 1.4
        ctx.beginPath()
        if (s.t === 'G') {
          ctx.moveTo(sx + w * 0.15, top - 2)
          ctx.lineTo(sx + w * 0.62, top - 9)
          ctx.lineTo(sx + w * 1.08, top - 2)
        } else {
          ctx.moveTo(sx + w * 0.3, top - 2)
          ctx.lineTo(sx + w * 0.6, top - 7)
          ctx.lineTo(sx + w * 0.9, top - 2)
        }
        ctx.stroke()
      }
      prevX = sx
      x = Math.max(x, sx + w)
    }
    ctx.restore()
  }
}

// prior circle drawn through the scales
const circlePlugin = {
  id: 'priorCircle',
  beforeDatasetsDraw(chart, args, opts) {
    if (!opts.radius) return
    const xs = chart.scales.x, ys = chart.scales.y, ctx = chart.ctx
    const cx = xs.getPixelForValue(0), cy = ys.getPixelForValue(0)
    const r = xs.getPixelForValue(opts.radius) - cx
    ctx.save()
    ctx.strokeStyle = '#000'
    ctx.lineWidth = 3.2
    ctx.beginPath()
    ctx.arc(cx, cy, r, 0, Math.PI * 2)
    ctx.stroke()
    ctx.restore()
  }
}

function panel(id, datasets, o) {
  return new Chart(document.getElementById(id), {
    type: 'scatter',
    data: { datasets },
    options: {
      responsive: false,
      animation: false,
      devicePixelRatio: 1,
      events: [],
      layout: { padding: { top: 16, right: o.right, left: 0, bottom: 0 } },
      plugins: {
        legend: { display: false },
        tooltip: { enabled: false },
        panelTitle: { segs: o.title },
        priorCircle: { radius: o.circle || 0 }
      },
      scales: {
        x: axis(xTicks, o.xLabels, 'x'),
        y: axis(yTicks, o.yLabels, 'y')
      }
    },
    plugins: [circlePlugin, framePlugin, titlePlugin]
  })
}

const dots = pts => ({
  data: toXY(pts),
  pointRadius: 2.8,
  pointBorderWidth: 0,
  pointBackgroundColor: '#000',
  showLine: false
})

panel('rawChart', [dots(rawY)], {
  right: 12, xLabels: false, yLabels: true,
  title: [{ t: 'Raw Data ' }, { t: 'Y', it: true }, { t: 'i', it: true, sub: true }]
})

panel('priorChart', [{
  data: npmleX.map((x, i) => ({ x, y: npmleY[i] })),
  pointRadius: c => 14 * Math.sqrt(npmleW[c.dataIndex]),
  pointBorderWidth: 0,
  pointBackgroundColor: '#ff0000',
  showLine: false
}], {
  right: 8, xLabels: false, yLabels: false, circle: priorRadius,
  title: [{ t: 'Prior ' }, { t: 'G', it: true }, { t: '*', sup: true, gap: 4 }, { t: ', and ' },
    { t: 'NPMLE ', color: '#ff0000' }, { t: 'G', it: true, hat: true, color: '#ff0000' },
    { t: 'n', it: true, sub: true, color: '#ff0000' }]
})

panel('oracleChart', [dots(oracleTheta)], {
  right: 12, xLabels: true, yLabels: true,
  title: [{ t: 'Oracle Bayes ' }, { t: '\u03b8', it: true, hat: true }, { t: 'i', it: true, sub: true },
    { t: '*', sup: true, over: true }]
})

panel('ebChart', [dots(ebTheta)], {
  right: 8, xLabels: true, yLabels: false,
  title: [{ t: 'Empirical Bayes ' }, { t: '\u03b8', it: true, hat: true }, { t: 'i', it: true, sub: true }]
})
</script>
</body>
</html>
